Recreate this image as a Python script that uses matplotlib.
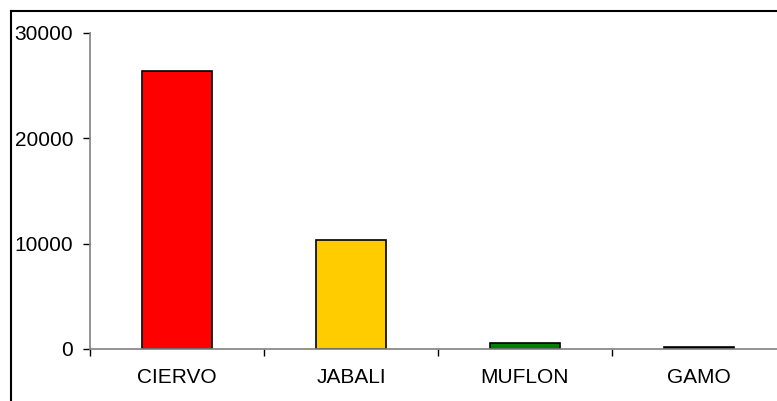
import numpy as np
import matplotlib.pyplot as plt
from matplotlib.lines import Line2D

plt.rcParams['font.family'] = ['Liberation Sans', 'DejaVu Sans']
plt.rcParams['font.size'] = 15

especies = ['CIERVO', 'JABALI', 'MUFLON', 'GAMO']
capturas = [26400, 10350, 570, 190]
colores = ['#FF0000', '#FFCC00', '#008000', '#000000']

W, H = 777, 401
fig = plt.figure(figsize=(W / 100, H / 100), dpi=100)
ax = fig.add_axes([90 / W, 52 / H, 687 / W, 316 / H])

x = np.arange(len(especies))
ax.bar(x, capturas, width=0.4, color=colores, edgecolor='black', linewidth=1.2)

ax.set_xlim(-0.5, -0.5 + 687 / 174)
ax.set_ylim(0, 30000)
ax.set_yticks([0, 10000, 20000, 30000])
ax.set_yticklabels(['0', '10000', '20000', '30000'])

# separadores de categoria
ax.set_xticks([-0.5, 0.5, 1.5, 2.5])
ax.set_xticklabels([])
ax.set_xticks(x, minor=True)
ax.set_xticklabels(especies, minor=True)
ax.tick_params(axis='x', which='major', length=5, width=1, color='black', direction='out')
ax.tick_params(axis='x', which='minor', length=0, pad=14)
ax.tick_params(axis='y', length=5, width=1, color='black', pad=7)

for s in ['top', 'right']:
    ax.spines[s].set_visible(False)
ax.spines['left'].set_color('#808080')
ax.spines['bottom'].set_color('#808080')
ax.spines['left'].set_linewidth(1.2)
ax.spines['bottom'].set_linewidth(1.2)

# borde exterior del grafico
fig.add_artist(Line2D([11 / W, 1], [1 - 11 / H, 1 - 11 / H], color='black', linewidth=1.5))
fig.add_artist(Line2D([11 / W, 11 / W], [0, 1 - 11 / H], color='black', linewidth=1.5))

fig.savefig('out.png', dpi=100)
